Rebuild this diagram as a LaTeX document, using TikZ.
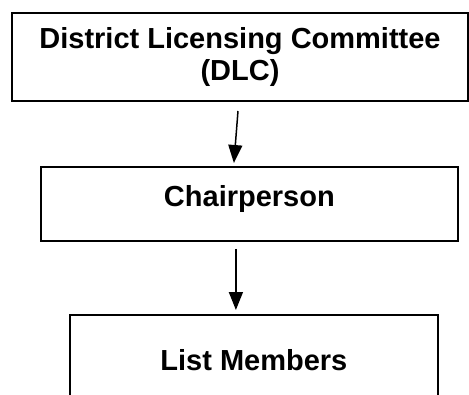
\documentclass[tikz,border=0pt]{standalone}
\usepackage{fontspec}
\setmainfont{Liberation Sans}
\usetikzlibrary{calc}
\usetikzlibrary{arrows.meta}

\tikzset{
 unitbox/.style={draw=black, line width=1.8pt, inner sep=0pt, anchor=north west,
   font=\fontsize{29}{32}\selectfont\bfseries, align=center},
 downarrow/.style={black, line width=1.5pt, -{Triangle[width=14pt,length=18pt]}}
}

\begin{document}
\begin{tikzpicture} [x=1pt,y=-1pt]
\useasboundingbox (0,0) rectangle (469,394);
\node[unitbox, line width=2pt, minimum width=456pt, minimum height=88pt] (dlc) at (11,12) {District Licensing Committee\\(DLC)};
\node[unitbox, minimum width=417pt, minimum height=74pt, text height=21pt, text depth=15pt] (chair) at (40,166) {Chairperson};
\node[unitbox, minimum width=368pt, minimum height=110pt, text height=21pt, text depth=19pt] (members) at (69,314) {List Members};
\draw[downarrow] ($(dlc.south)+(-2,9)$)--($(chair.north)+(-15.5,-3)$);
\draw[downarrow] ($(chair.south)+(-13.5,7)$)--($(members.north)+(-18,-4)$);
\end{tikzpicture}
\end{document}
